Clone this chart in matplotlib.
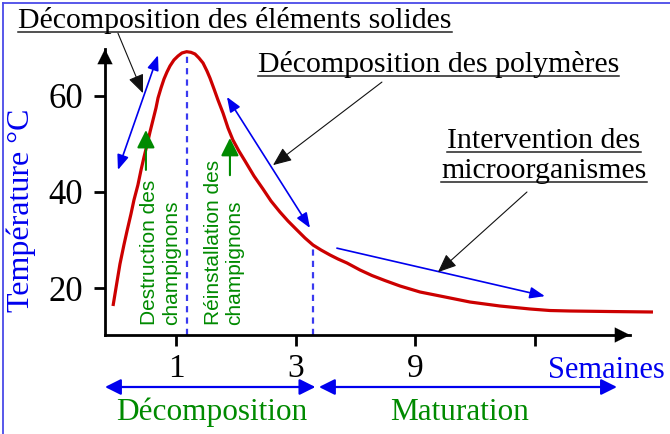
import matplotlib
matplotlib.use("Agg")
import matplotlib.pyplot as plt
import numpy as np
from matplotlib.lines import Line2D

# ---------------- data ----------------
# x positions are tick slots (1 -> "1", 2 -> "3", 3 -> "9", 4 -> unlabeled)
tick_pos = [1, 2, 3, 4]
tick_labels = ["1", "3", "9", ""]
y_ticks = [20, 40, 60]

curve_x = [0.474, 0.507, 0.532, 0.565, 0.591, 0.624, 0.649, 0.682, 0.708, 0.733,
           0.758, 0.783, 0.808, 0.833, 0.850, 0.875, 0.900, 0.925, 0.950, 0.983,
           1.017, 1.050, 1.089, 1.125, 1.159, 1.192, 1.226, 1.259, 1.284, 1.318,
           1.351, 1.393, 1.435, 1.476, 1.526, 1.577, 1.652, 1.727, 1.794, 1.869,
           1.936, 2.011, 2.078, 2.145, 2.212, 2.287, 2.354, 2.429, 2.538, 2.638,
           2.746, 2.872, 3.039, 3.248, 3.457, 3.707, 3.958, 4.125, 4.292, 4.627,
           4.986]
curve_T = [16.25, 21.25, 25.0, 28.96, 31.88, 35.42, 38.33, 41.46, 44.58, 47.29,
           49.79, 52.5, 55.0, 57.5, 59.58, 61.67, 63.54, 65.0, 66.25, 67.5,
           68.33, 68.96, 69.23, 69.1, 68.75, 67.92, 66.88, 65.21, 63.75, 61.46,
           59.17, 56.46, 53.33, 50.83, 48.54, 46.46, 43.33, 40.63, 38.13, 35.83,
           33.96, 32.08, 30.42, 28.96, 27.92, 26.88, 26.04, 25.21, 23.75, 22.6,
           21.56, 20.42, 19.17, 18.13, 17.08, 16.25, 15.63, 15.31, 15.21, 15.10,
           15.0]
phase_end_decomp = 2.145   # end of decomposition (second dashed line)
phase_split = 2.18          # boundary of the two phase arrows
phase_end = 4.685

RED = "#cc0000"
BLUE = "#0000ee"
GREEN = "#008a00"
SERIF = "Liberation Serif"
SANS = "Liberation Sans"

W, H = 670, 434
fig = plt.figure(figsize=(W / 100, H / 100), dpi=100)
fig.patch.set_facecolor("white")

def fx(px):
    return px / W

def fy(py):
    return 1 - py / H

ax = fig.add_axes([fx(105), fy(335), (630 - 105) / W, (335 - 49) / H])
ax.set_xlim(0.407, 4.794)
ax.set_ylim(10.21, 69.79)
for s in ["top", "right"]:
    ax.spines[s].set_visible(False)
for s in ["left", "bottom"]:
    ax.spines[s].set_linewidth(2)
ax.set_xticks(tick_pos)
ax.set_xticklabels(tick_labels)
ax.set_yticks(y_ticks)
ax.tick_params(axis="both", direction="out", length=8, width=2)
ax.tick_params(axis="x", pad=5, labelsize=24)
ax.tick_params(axis="y", pad=8, labelsize=25)
for lab in ax.get_xticklabels() + ax.get_yticklabels():
    lab.set_family(SERIF)

ax.set_ylabel("Température °C", color=BLUE, fontsize=23, family=SERIF)
ax.yaxis.set_label_coords(-0.131, 0.437)

# axis arrowheads
ax.annotate("", xy=(0, 1), xytext=(0, 0.9), xycoords="axes fraction",
            arrowprops=dict(arrowstyle="-|>,head_length=0.9,head_width=0.45",
                            color="black", lw=0.1, mutation_scale=12,
                            shrinkA=0, shrinkB=0), annotation_clip=False)
ax.annotate("", xy=(1, 0), xytext=(0.9, 0), xycoords="axes fraction",
            arrowprops=dict(arrowstyle="-|>,head_length=0.9,head_width=0.45",
                            color="black", lw=0.1, mutation_scale=12,
                            shrinkA=0, shrinkB=0), annotation_clip=False)

# curve
ax.plot(curve_x, curve_T, color=RED, lw=2.3, clip_on=False,
        solid_joinstyle="round", solid_capstyle="butt", zorder=3)

# dashed vertical lines: at the peak and at end of decomposition
i_peak = int(np.argmax(curve_T))
ax.plot([curve_x[i_peak]] * 2, [10.21, curve_T[i_peak]], color="#3a3af0",
        lw=1.6, dashes=(2.8, 2.3), zorder=2)
T_end = float(np.interp(phase_end_decomp, curve_x, curve_T))
ax.plot([phase_end_decomp] * 2, [10.21, T_end], color="#3a3af0",
        lw=1.6, dashes=(2.8, 2.3), zorder=2)

def arrow(xy, xytext, style, color, lw, ms, coords="data"):
    ax.annotate("", xy=xy, xytext=xytext, xycoords=coords, textcoords=coords,
                arrowprops=dict(arrowstyle=style, color=color, lw=lw,
                                mutation_scale=ms, shrinkA=0, shrinkB=0),
                annotation_clip=False)

# blue process arrows
arrow((0.850, 68.5), (0.515, 44.6), "<|-|>,head_length=0.9,head_width=0.35", BLUE, 1.2, 10)
arrow((2.120, 32.5), (1.426, 59.8), "<|-|>,head_length=0.9,head_width=0.35", BLUE, 1.2, 10)
arrow((4.083, 18.3), (2.345, 28.3), "-|>,head_length=0.9,head_width=0.35", BLUE, 1.2, 10)

# black pointer arrows
arrow((0.724, 60.6), (0.515, 73.1), "-|>,head_length=0.95,head_width=0.4", "#111111", 0.8, 12)
arrow((1.811, 45.6), (2.721, 62.9), "-|>,head_length=0.95,head_width=0.4", "#111111", 0.8, 12)
arrow((3.189, 23.3), (3.933, 40.0), "-|>,head_length=0.95,head_width=0.4", "#111111", 0.8, 12)

# green arrows
arrow((0.749, 52.9), (0.749, 44.6), "-|>,head_length=0.9,head_width=0.45", GREEN, 1.5, 12)
arrow((1.451, 51.25), (1.451, 43.5), "-|>,head_length=0.9,head_width=0.45", GREEN, 1.5, 12)

# green rotated labels
ax.text(0.871, 12.3, "Destruction des\nchampignons", rotation=90, ha="center",
        va="bottom", multialignment="left", color=GREEN, fontsize=15,
        family=SANS, linespacing=1.15)
ax.text(1.401, 12.3, "Réinstallation des\nchampignons", rotation=90, ha="center",
        va="bottom", multialignment="left", color=GREEN, fontsize=15,
        family=SANS, linespacing=1.15)

# bottom phase arrows (y in figure pixels from the bottom)
yb = H - 387
arrow((0.407, yb), (phase_split - 0.015, yb), "<|-|>,head_length=0.8,head_width=0.4",
      BLUE, 1.6, 12, coords=("data", "figure pixels"))
arrow((phase_split + 0.015, yb), (phase_end, yb), "<|-|>,head_length=0.8,head_width=0.4",
      BLUE, 1.6, 12, coords=("data", "figure pixels"))

# annotation texts (figure coords)
underlined = []
def ftext(px, py, s, ha="left", color="black", size=21.5, ul=False):
    t = fig.text(fx(px), fy(py), s, ha=ha, va="baseline", color=color,
                 fontsize=size, family=SERIF)
    if ul:
        underlined.append((t, py))
    return t

ftext(18, 28, "Décomposition des éléments solides", ul=True)
ftext(258, 72, "Décomposition des polymères", ul=True)
ftext(544, 148, "Intervention des", ha="center", ul=True)
ftext(544, 178, "microorganismes", ha="center", ul=True)
ftext(548, 378, "Semaines", color=BLUE, size=22)
ftext(212, 420, "Décomposition", ha="center", color=GREEN, size=22.5)
ftext(460, 420, "Maturation", ha="center", color=GREEN, size=22.5)

fig.canvas.draw()
for t, py in underlined:
    bb = t.get_window_extent()
    yline = fy(py + 4)
    fig.add_artist(Line2D([bb.x0 / W, bb.x1 / W], [yline, yline],
                          color="#222222", lw=1.1))

# frame
fig.add_artist(Line2D([fx(3), fx(3)], [0, fy(3)], color="#4a4ae8", lw=1.3))
fig.add_artist(Line2D([fx(3), 1], [fy(3), fy(3)], color="#4a4ae8", lw=1.3))

fig.savefig("out.png", dpi=100)
